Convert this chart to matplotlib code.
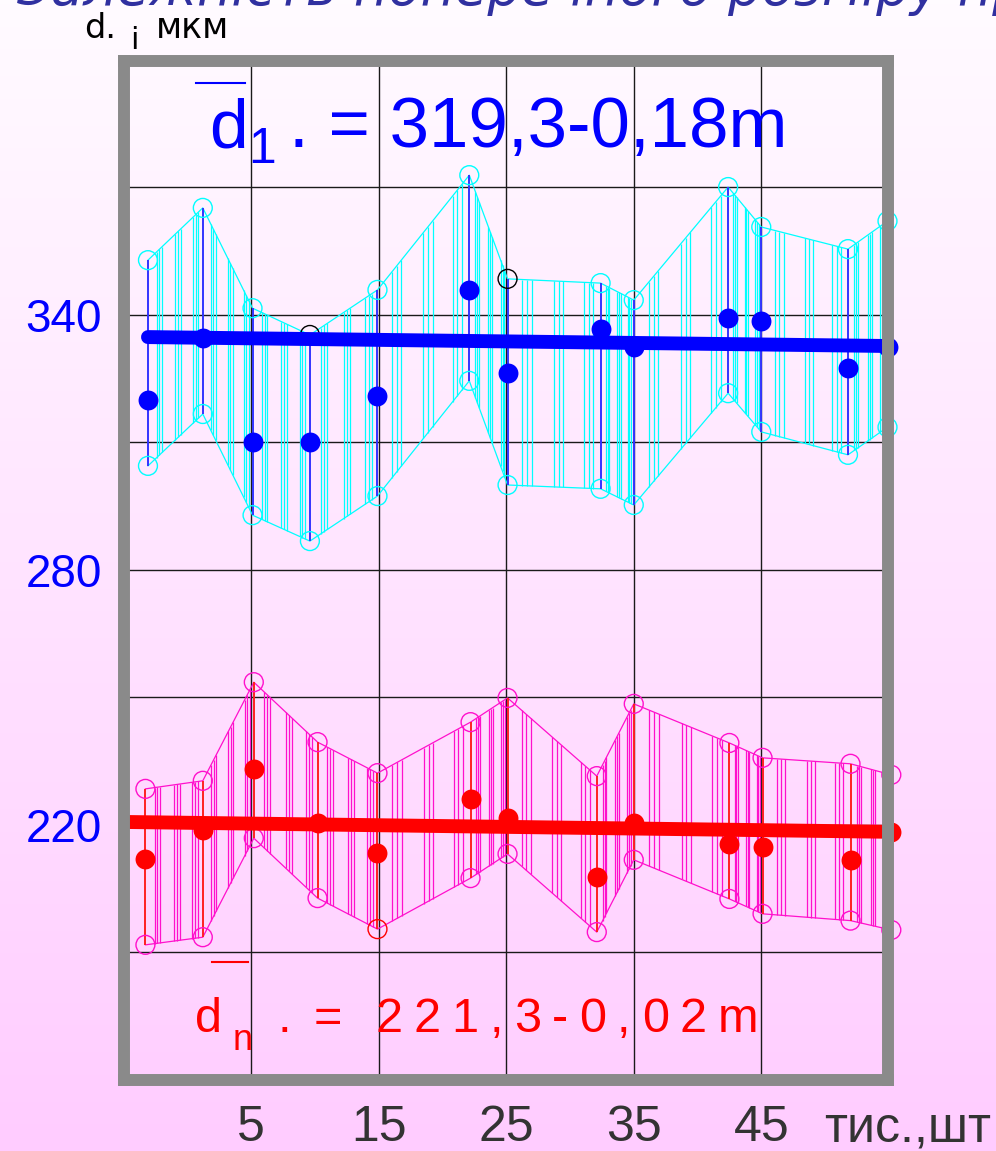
"""Діаметр (поперечний розмір) по ходу виробітку: два ряди з огинаючими та лініями тренду."""

import numpy as np
import matplotlib
matplotlib.use("Agg")
import matplotlib.pyplot as plt
from matplotlib.lines import Line2D

W, H = 996, 1151

# ---- дані ----
blue_x = [-3.1, 1.2, 5.1, 9.6, 14.9, 22.1, 25.1, 32.4, 35.0, 42.4, 45.0, 51.8, 54.9]
blue_mean = [320.0, 334.6, 310.1, 310.1, 320.9, 345.9, 326.4, 336.7, 332.5, 339.3, 338.6, 327.5, 332.5]
blue_hi = [352.9, 365.2, 341.6, 335.3, 345.9, 372.9, 348.5, 347.5, 343.5, 370.1, 360.7, 355.5, 362.1]
blue_lo = [304.5, 316.7, 292.9, 286.8, 297.4, 324.5, 300.0, 299.1, 295.3, 321.6, 312.5, 307.1, 313.6]
blue_trend_x = [-3.1, 55.0]
blue_trend_y = [334.8, 332.7]

red_x = [-3.3, 1.2, 5.2, 10.2, 14.9, 22.2, 25.1, 32.1, 35.0, 42.5, 45.1, 52.0, 55.2]
red_mean = [212.0, 218.8, 233.2, 220.5, 213.4, 226.1, 221.6, 207.8, 220.5, 215.5, 214.8, 211.8, 218.4]
red_hi = [228.5, 230.4, 253.6, 239.5, 232.2, 244.2, 249.9, 231.5, 248.5, 239.3, 235.8, 234.4, 231.8]
red_lo = [191.8, 193.6, 216.9, 202.8, 195.5, 207.5, 213.2, 194.8, 211.8, 202.6, 199.1, 197.5, 195.3]
red_trend_x = [-4.6, 55.0]
red_trend_y = [220.7, 218.4]

x_ticks = [5, 15, 25, 35, 45]
x_tick_labels = ["5", "15", "25", "35", "45"]
y_grid = [190, 220, 250, 280, 310, 340, 370]
y_tick_labels = ["", "220", "", "280", "", "340", ""]

# кола, що намальовані іншим кольором
blue_hi_black = [3, 6]
red_lo_red = [4]

# штрихування всередині смуги: частки кожного проміжку
hatch_frac = [0.16, 0.21, 0.26, 0.5, 0.55, 0.6, 0.82, 0.87, 0.92]

SANS = "Liberation Sans"


def fx(px):
    return px / W


def fy(py):
    return 1 - py / H


fig = plt.figure(figsize=(W / 100, H / 100), dpi=100)

# фон-градієнт
bg = fig.add_axes([0, 0, 1, 1], zorder=-10)
t = np.linspace(0, 1, 256)[:, None, None]
top = np.array([255, 251, 255]) / 255
bot = np.array([255, 204, 255]) / 255
bg.imshow(top + (bot - top) * t, aspect="auto", extent=[0, 1, 0, 1], origin="upper")
bg.axis("off")

ax = fig.add_axes([fx(124), fy(1080), (887.5 - 124) / W, (1080 - 61) / H])
ax.set_facecolor("none")
ax.set_xlim(-4.98, 54.9)
ax.set_ylim(160.0, 399.76)
for sp in ax.spines.values():
    sp.set_linewidth(8.6)
    sp.set_color("#8a8a8a")
    sp.set_zorder(5)
    sp.set_capstyle("projecting")

ax.set_xticks(x_ticks)
ax.set_xticklabels([])
ax.set_yticks(y_grid)
ax.set_yticklabels(y_tick_labels, fontsize=33, family=SANS, color="#0000ff")
ax.tick_params(axis="x", length=0)
ax.tick_params(axis="y", length=0, pad=16)
ax.grid(True, color="#1a1a1a", lw=1.0)
ax.set_axisbelow(True)

# підписи по осі x — по базовій лінії під рамкою
x_lab_y = -(1141 - 1080) / (1080 - 61)
for xv, lab in zip(x_ticks, x_tick_labels):
    ax.text(xv, x_lab_y, lab, transform=ax.get_xaxis_transform(), fontsize=36, family=SANS,
            color="#333333", ha="center", va="baseline")


def draw_band(xs, mean, hi, lo, line_c, bar_c, dot_c, hi_edges, lo_edges):
    xs = np.asarray(xs)
    hx = np.concatenate([a + (b - a) * np.array(hatch_frac) for a, b in zip(xs[:-1], xs[1:])])
    ax.vlines(hx, np.interp(hx, xs, lo), np.interp(hx, xs, hi),
              colors=line_c, lw=0.9, zorder=1, clip_on=False)
    ax.plot(xs, hi, color=line_c, lw=0.9, zorder=2, clip_on=False)
    ax.plot(xs, lo, color=line_c, lw=0.9, zorder=2, clip_on=False)
    ax.vlines(xs, lo, hi, colors=bar_c, lw=1.4, zorder=2.5, clip_on=False)
    ax.scatter(xs, hi, s=185, facecolors="none", edgecolors=hi_edges, lw=1.0, zorder=3, clip_on=False)
    ax.scatter(xs, lo, s=185, facecolors="none", edgecolors=lo_edges, lw=1.0, zorder=3, clip_on=False)
    ax.scatter(xs, mean, s=205, color=dot_c, lw=0, zorder=4, clip_on=False)


cyan = "#00ffff"
magenta = "#ff10cc"
b_hi_e = [("black" if i in blue_hi_black else cyan) for i in range(len(blue_x))]
r_lo_e = [("#ff0000" if i in red_lo_red else magenta) for i in range(len(red_x))]

draw_band(blue_x, blue_mean, blue_hi, blue_lo, cyan, "#3333ff", "#0000ff", b_hi_e, [cyan] * len(blue_x))
draw_band(red_x, red_mean, red_hi, red_lo, magenta, "#ff2020", "#ff0000", [magenta] * len(red_x), r_lo_e)

ax.plot(blue_trend_x, blue_trend_y, color="#0000ff", lw=10, solid_capstyle="round", zorder=4.5, clip_on=False)
ax.plot(red_trend_x, red_trend_y, color="#ff0000", lw=10, solid_capstyle="round", zorder=4.5, clip_on=False)

# ---- підписи ----
fig.text(fx(17), fy(5), "Залежність поперечного розміру пряжі", fontsize=38, style="italic",
         color="#3030a0", va="baseline", family="DejaVu Sans")

fig.text(fx(84), fy(38), "d.", fontsize=24, va="baseline", family="DejaVu Sans", color="black")
fig.text(fx(130), fy(49), "i", fontsize=22, va="baseline", family="DejaVu Sans", color="black")
fig.text(fx(156), fy(38), "мкм", fontsize=25, va="baseline", family="DejaVu Sans", color="black")

fig.text(fx(991), fy(1141), "тис.,шт", fontsize=36, va="baseline", ha="right", family=SANS, color="#333333")

blue = "#0000ff"
fig.text(fx(209), fy(147), "d", fontsize=50, va="baseline", family=SANS, color=blue)
fig.text(fx(248), fy(163), "1", fontsize=36, va="baseline", family=SANS, color=blue)
fig.text(fx(289), fy(147), ". = 319,3-0,18m", fontsize=51, va="baseline", family=SANS, color=blue)
fig.add_artist(Line2D([fx(196), fx(245)], [fy(83), fy(83)], color=blue, lw=1.5))

red = "#ff0000"
fig.text(fx(195), fy(1032), "d", fontsize=35, va="baseline", family=SANS, color=red)
fig.text(fx(233), fy(1050), "n", fontsize=26, va="baseline", family=SANS, color=red)
fig.text(fx(278), fy(1032), ".", fontsize=35, va="baseline", family=SANS, color=red)
fig.text(fx(314), fy(1032), "=", fontsize=35, va="baseline", family=SANS, color=red)
fig.add_artist(Line2D([fx(212), fx(248)], [fy(962), fy(962)], color=red, lw=1.5))


def spaced_text(x_px, y_px, s, gap_px, **kw):
    renderer = fig.canvas.get_renderer()
    x = x_px
    for ch in s:
        txt = fig.text(fx(x), fy(y_px), ch, va="baseline", ha="left", **kw)
        x += txt.get_window_extent(renderer).width + gap_px


spaced_text(375, 1032, "221,3-0,02m", 11, fontsize=35, family=SANS, color=red)

fig.savefig("out.png", dpi=100)
